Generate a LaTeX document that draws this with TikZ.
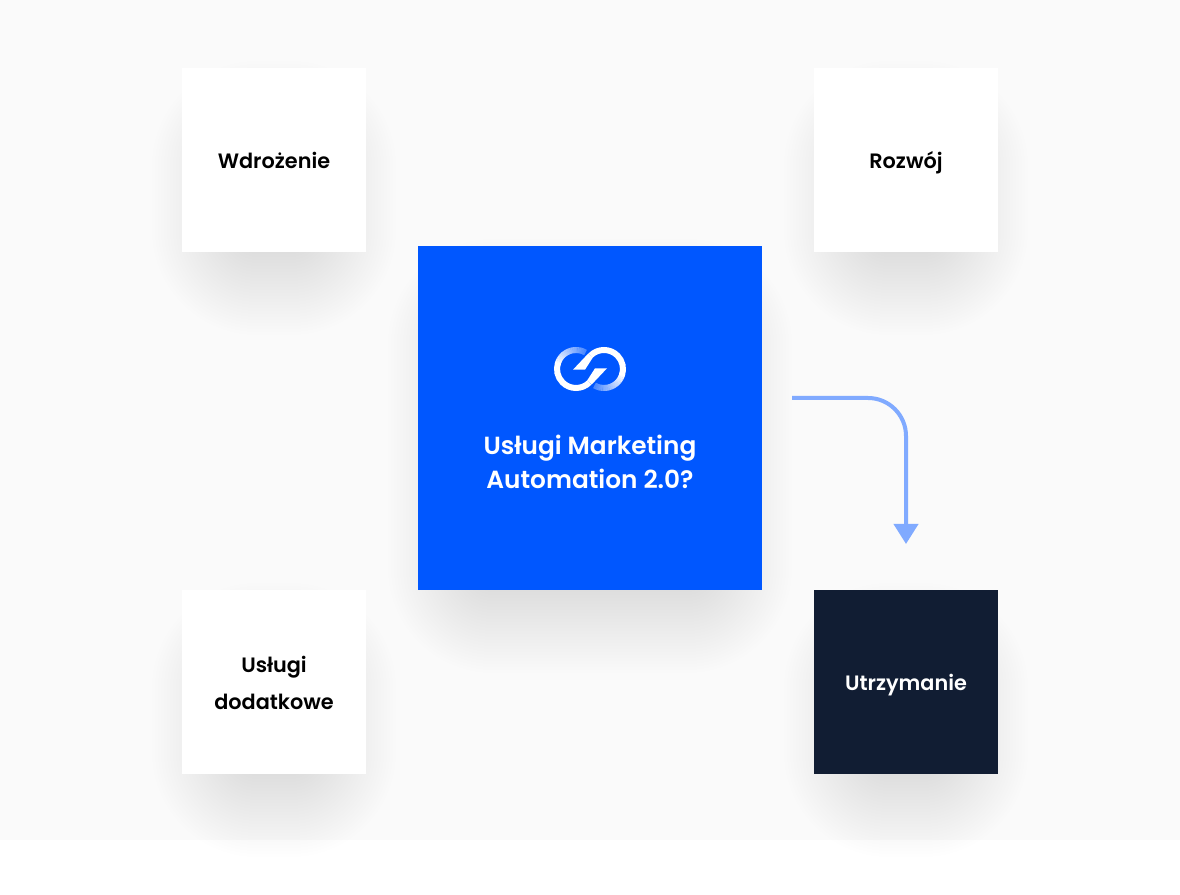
\documentclass[tikz,border=0pt]{standalone}
\usepackage{fontspec}
\setmainfont{Poppins}[UprightFont=* SemiBold]
\usetikzlibrary{positioning,calc,arrows.meta}
\pgfdeclarelayer{background}
\pgfsetlayers{background,main}
\definecolor{pagegray}{HTML}{FAFAFA}
\definecolor{coreblue}{HTML}{0057FF}
\definecolor{darknavy}{HTML}{111D33}
\definecolor{flowblue}{HTML}{80AAFF}
\tikzset{
  tile/.style={minimum size=184pt,inner sep=0pt,outer sep=0pt,align=center,fill=white,text=black,font=\fontsize{20.8}{37}\selectfont},
  onerow/.style={text height=22pt,text depth=4pt},
  tworow/.style={text height=61pt,text depth=5pt},
  flow/.style={draw=flowblue,line width=4pt,rounded corners=38pt,-{Triangle[width=24pt,length=20pt]}},
}
\newcommand{\softshadow}[1]{
  \foreach \e [evaluate=\e as \op using {0.0038*(1-\e*\e/3600)+0.0004}] in {-60,-57,...,60}
    \fill[black,opacity=\op,rounded corners=\e pt+60pt]
      ($(#1.south west)+(15pt-\e pt,-38pt-\e pt)$) rectangle ($(#1.north east)+(\e pt-15pt,-38pt+\e pt)$);
}
\begin{document}
\begin{tikzpicture}[x=1pt,y=1pt]
\useasboundingbox (0,0) rectangle (1180,894);
\node[minimum size=344pt,inner sep=0pt,outer sep=0pt,fill=coreblue] (core) at (590,476) {};
\node[below=44pt of core.center,anchor=center,align=center,text=white,font=\fontsize{24.8}{34}\selectfont] (corelbl) {Usługi Marketing\\Automation 2.0?};
\node[tile,onerow,above left=-6pt and 52pt of core] (wdro) {Wdrożenie};
\node[tile,onerow,above right=-6pt and 52pt of core] (rozw) {Rozwój};
\node[tile,tworow,below left=0pt and 52pt of core] (uslu) {Usługi\\dodatkowe};
\node[tile,onerow,below right=0pt and 52pt of core,fill=darknavy,text=white] (utrz) {Utrzymanie};
\coordinate[above=49pt of core.center,anchor=center] (logo);
\begin{scope}[shift={(logo)}]
\foreach \r in {0,180} {
  \begin{scope}[rotate=\r]
  \foreach \a [evaluate=\a as \op using {100-70*(-20-\a)/100}] in {-120,-115,...,-20}
    \draw[white!\op!coreblue,line width=6pt] (14,0)+(\a:19) arc (\a:\a+6:19);
  \draw[white,line width=6pt] (14,0)+(135:19) arc (135:-20:19);
  \fill[white] (-17,-0.7) -- (-5,-0.7) -- (2.7,11.3) -- (-1.6,15.6) -- cycle;
  \end{scope}
}
\end{scope}
\coordinate (flowstart) at ($(core.east)+(30pt,20pt)$);
\coordinate[above=46pt of utrz] (flowend);
\draw[flow] (flowstart) -| (flowend);
\begin{pgfonlayer}{background}
\fill[pagegray] (0,54) rectangle (1180,894);
\foreach \n in {wdro,rozw,uslu,utrz,core}
  {\softshadow{\n}}
\end{pgfonlayer}
\end{tikzpicture}
\end{document}
